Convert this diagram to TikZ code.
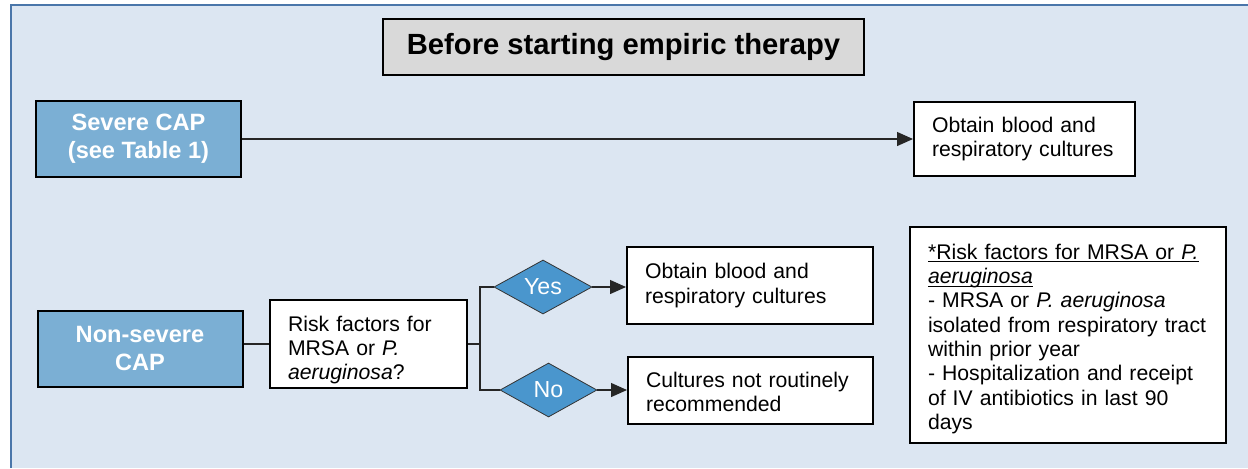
\documentclass[tikz,border=0pt]{standalone}
\usepackage{fontspec}
\setmainfont{Liberation Sans}
\usepackage{tikz}
\usetikzlibrary{arrows.meta}
\tikzset{>={Triangle[length=8pt,width=7pt]}}
\usetikzlibrary{shapes.geometric}
\definecolor{panelblue}{RGB}{220,230,242}
\definecolor{frameblue}{RGB}{74,118,170}
\definecolor{capblue}{RGB}{123,175,212}
\definecolor{choiceblue}{RGB}{74,150,205}
\definecolor{headgray}{RGB}{217,217,217}
\newcommand{\bodyfont}{\fontsize{10.6}{12.15}\selectfont}
\newcommand{\capfont}{\fontsize{11.8}{14}\selectfont\bfseries}
\newcommand{\headfont}{\fontsize{14.6}{17}\selectfont\bfseries}
\newcommand{\choicefont}{\fontsize{11.6}{13}\selectfont}
\newcommand{\lineunder}[1]{\leavevmode\setbox0\hbox{#1}\rlap{\rule[-1.6pt]{\wd0}{0.5pt}}\box0}
\tikzset{
    headbox/.style={draw=black, line width=1pt, fill=headgray, font=\headfont,
        minimum width=240.5pt, minimum height=28pt, inner sep=0pt},
    capbox/.style={draw=black, line width=1pt, fill=capblue, text=white, font=\capfont,
        align=center, minimum width=102.5pt, minimum height=38pt, inner sep=0pt},
    infobox/.style={draw=black, line width=1pt, fill=white, font=\bodyfont,
        align=left, inner xsep=9pt, inner ysep=0pt},
    choice/.style={diamond, draw=black!80, line width=0.4pt, fill=choiceblue,
        text=white, font=\choicefont, inner sep=0pt},
    wire/.style={line width=0.6pt, black!85}
}

\begin{document}
\begin{tikzpicture}[x=0.5pt, y=-0.5pt]
    \useasboundingbox (0,0) rectangle (1248,468);
    \fill[white] (0,0) rectangle (1248,468);
    \fill[panelblue] (11,5) rectangle (1248,468);
    \draw[frameblue, line width=1.3pt] (11,468) -- (11,5) -- (1248,5);

    \node[headbox] at (623.5,47) (head) {Before starting empiric therapy};
    \node[capbox] at (138.5,139) (severe) {Severe CAP\\(see Table 1)};
    \node[infobox, text width=92.5pt, minimum height=37pt] at (1024.5,139) (bloodA) {Obtain blood and\\respiratory cultures};
    \node[capbox] at (140,348.5) (nonsevere) {Non-severe\\CAP};
    \node[infobox, text width=80.5pt, minimum height=44pt] at (368.5,344) (risk) {\rule{0pt}{13.5pt}Risk factors for\\MRSA or \textit{P.}\\\textit{aeruginosa}?};
    \node[choice, minimum width=49pt, minimum height=24.5pt] at (543,287) (yes) {Yes};
    \node[choice, minimum width=48.5pt, minimum height=27pt] at (548.5,390) (no) {No};
    \node[infobox, text width=105pt, minimum height=38.5pt] at (750,285.5) (bloodB) {Obtain blood and\\respiratory cultures};
    \node[infobox, text width=104.5pt, minimum height=33.5pt] at (750.5,390.5) (routine) {\rule{0pt}{9pt}Cultures not routinely\\recommended};
    \node[infobox, text width=140pt, minimum height=108pt] at (1068,335) (note) {\rule{0pt}{11.5pt}\lineunder{*Risk factors for MRSA or \textit{P.}}\\\lineunder{\textit{aeruginosa}}\\- MRSA or \textit{P. aeruginosa}\\isolated from respiratory tract\\within prior year\\- Hospitalization and receipt\\of IV antibiotics in last 90\\days};

    \coordinate (split) at (480,344);
    \path[wire]
    (severe) edge[->] (bloodA)
    (nonsevere.east |- risk.west) edge (risk.west)
    (yes.east) edge[->] (yes.east -| bloodB.west)
    (no.east) edge[->] (no.east -| routine.west)
    ;
    \draw[wire] (risk.east) -- (split) |- (yes.west);
    \draw[wire] (split) |- (no.west);
\end{tikzpicture}
\end{document}
